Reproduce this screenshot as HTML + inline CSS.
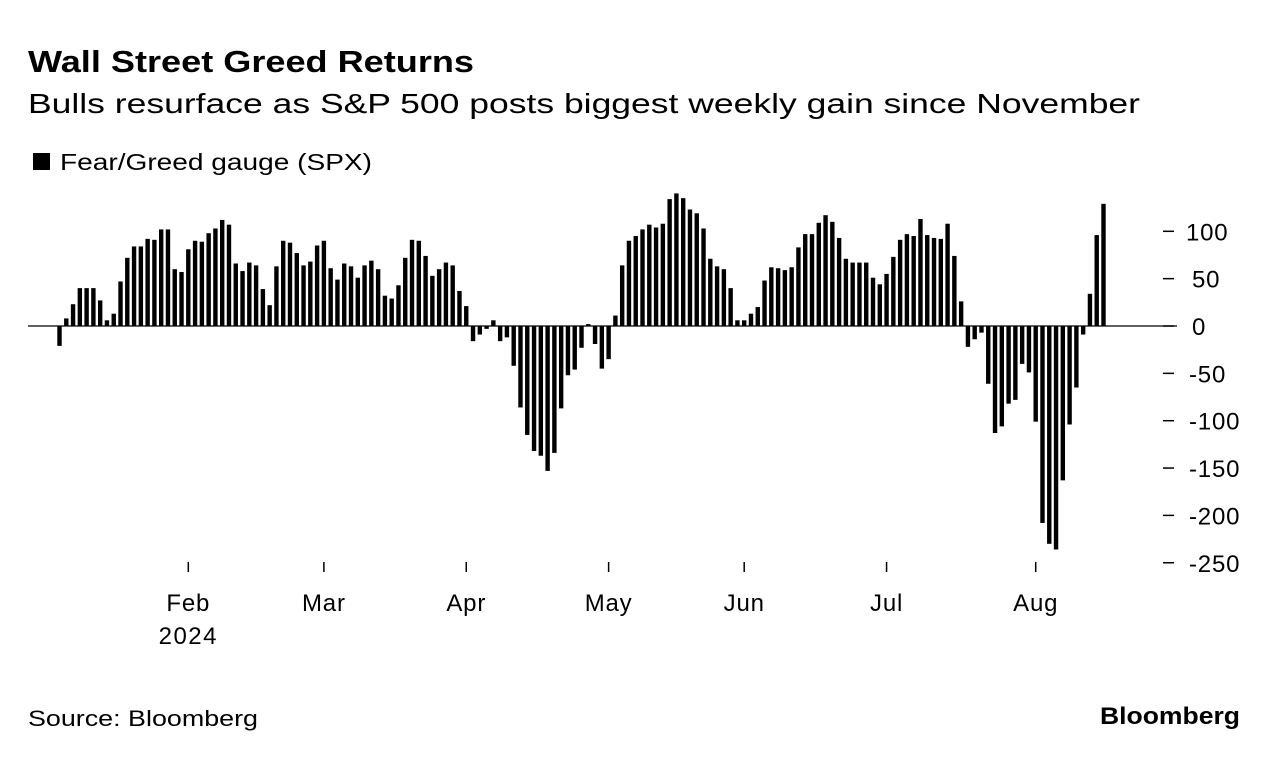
<!DOCTYPE html>
<html><head><meta charset="utf-8"><style>
body{margin:0;background:#fff;width:1279px;height:760px;overflow:hidden;font-family:"Liberation Sans",sans-serif;color:#000}
</style></head><body>
<svg width="1279" height="760" font-family="Liberation Sans, sans-serif">
<text x="28" y="72" font-size="31" font-weight="bold" textLength="446" lengthAdjust="spacingAndGlyphs">Wall Street Greed Returns</text>
<text x="28" y="113" font-size="28" textLength="1112" lengthAdjust="spacingAndGlyphs">Bulls resurface as S&amp;P 500 posts biggest weekly gain since November</text>
<rect x="33" y="153" width="17" height="17" fill="#000"/>
<text x="60" y="170" font-size="23" textLength="312" lengthAdjust="spacingAndGlyphs">Fear/Greed gauge (SPX)</text>
<g id="bars"></g>
<g id="axes"></g>
<text x="28" y="726" font-size="22" textLength="230" lengthAdjust="spacingAndGlyphs">Source: Bloomberg</text>
<text x="1100" y="724" font-size="24" font-weight="bold" textLength="140" lengthAdjust="spacingAndGlyphs">Bloomberg</text>
</svg>
<script>
const values=[-21,8,23,40,40,40,27,6,13,47,72,84,84,92,91,102,102,60,57,81,90,89,98,103,112,107,66,58,67,64,39,22,63,90,88,77,64,68,85,90,61,49,66,63,51,64,69,60,32,29,43,72,91,90,74,53,60,67,64,37,21,-16,-9,-3,6,-16,-12,-42,-86,-115,-132,-137,-153,-134,-87,-52,-46,-23,2,-19,-45,-35,11,64,90,95,102,107,104,108,134,140,135,123,119,103,71,63,60,40,6,6,13,20,48,62,61,59,62,83,97,97,109,117,110,93,71,67,67,67,51,44,55,73,91,97,95,113,96,93,92,108,74,26,-22,-14,-7,-61,-113,-106,-82,-78,-40,-49,-101,-208,-230,-236,-163,-104,-65,-9,34,96,129];
const yTicks=[100,50,0,-50,-100,-150,-200,-250];
const monthLabels=["Feb","Mar","Apr","May","Jun","Jul","Aug"];
const monthBarIndex=[19,39,60,81,101,122,144];
const NS="http://www.w3.org/2000/svg";
const x0=59.5,step=(1103.5-59.5)/154,bw=4.4;
const y=v=>326-v*0.947;
const xb=i=>x0+i*step;
const bars=document.getElementById('bars'),axes=document.getElementById('axes');
function mk(t,a,p){const e=document.createElementNS(NS,t);for(const k in a)e.setAttribute(k,a[k]);p.appendChild(e);return e;}
values.forEach((v,i)=>{
 const r=mk('rect',{x:xb(i)-bw/2,y:Math.min(y(v),y(0)),width:bw,height:Math.abs(y(v)-y(0)),fill:'#000'},bars);
 
 
});
const zl=mk('line',{x1:28,x2:1177,y1:y(0),y2:y(0),stroke:'#000','stroke-width':1.3},axes);


yTicks.forEach(t=>{
 const l=mk('line',{x1:1163,x2:1174,y1:y(t),y2:y(t),stroke:'#000','stroke-width':1.5},axes);
 
 
 const tx=mk('text',{x:t<0?1189:(t===100?1186:1192),y:y(t)+9,'font-size':24,'letter-spacing':0.8},axes);
 tx.textContent=t<0?'-'+Math.abs(t):String(t);
 
 
});
monthLabels.forEach((m,k)=>{
 const xx=xb(monthBarIndex[k]);
 const l=mk('line',{x1:xx,x2:xx,y1:562,y2:572,stroke:'#000','stroke-width':1.5},axes);
 
 
 const tx=mk('text',{x:xx,y:611,'font-size':24,'letter-spacing':0.8,'text-anchor':'middle'},axes);
 tx.textContent=m;
 
 
});
const yr=mk('text',{x:xb(monthBarIndex[0]),y:644,'font-size':24,'letter-spacing':1.5,'text-anchor':'middle'},axes);
yr.textContent='2024';


</script>
</body></html>
